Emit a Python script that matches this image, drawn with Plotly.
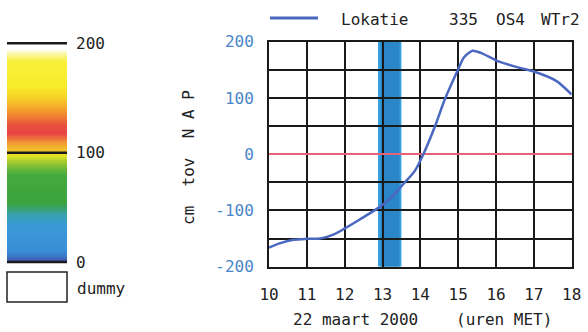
import plotly.graph_objects as go

# ---- data ----
hours = [10.0, 10.3, 10.65, 11.0, 11.35, 11.7, 12.0, 12.4, 12.9, 13.2, 13.55, 13.85,
         14.08, 14.39, 14.65, 15.0, 15.15, 15.38, 15.6, 16.1, 16.6, 17.0, 17.6, 18.0]
level = [-166, -158, -152, -150.5, -150, -143, -132, -116, -95, -79, -53, -30,
         0, 50, 98, 151, 172, 184, 180, 164, 154, 147, 130, 106]

band_outer = [12.88, 13.5]
band_inner = [12.95, 13.45]

x_ticks = [10, 11, 12, 13, 14, 15, 16, 17, 18]
y_ticks = [-200, -150, -100, -50, 0, 50, 100, 150, 200]
y_ticktext = ["-200", "", "-100", "", "0", "", "100", "", "200"]

scale_ticks = [0, 100, 200]
scale_levels = list(range(0, 201))
scale_colors = [
    [0.00, "#4a4aa8"], [0.025, "#3c74c4"], [0.05, "#3a8ed6"], [0.17, "#3a9ad8"],
    [0.22, "#38a0a8"], [0.27, "#3ca43c"], [0.40, "#44aa40"], [0.455, "#98c830"],
    [0.485, "#e6e424"], [0.51, "#f2c428"], [0.55, "#f09434"], [0.585, "#e84444"],
    [0.625, "#e8503c"], [0.68, "#f29030"], [0.74, "#f6c828"], [0.80, "#f8ec28"],
    [0.92, "#f8f03c"], [0.955, "#fbf8b8"], [0.975, "#ffffff"], [1.00, "#ffffff"],
]

FONT = "DejaVu Sans Mono"
CURVE = "#4a68c0"
YLAB = "#4a86c8"

fig = go.Figure()

# colour scale column (left)
fig.add_trace(go.Heatmap(
    z=[[v + 0.5] for v in scale_levels[:-1]],
    x=[0, 1], y=scale_levels,
    zmin=0, zmax=200, colorscale=scale_colors, showscale=False,
    xaxis="x2", yaxis="y2", hoverinfo="skip"))

# main curve
fig.add_trace(go.Scatter(
    x=hours, y=level, mode="lines",
    line=dict(color=CURVE, width=2.5, shape="spline", smoothing=0.7),
    showlegend=False, xaxis="x", yaxis="y"))

shapes = []
# blue band
shapes.append(dict(type="rect", xref="x", yref="y", x0=band_outer[0], x1=band_outer[1],
                   y0=-200, y1=200, fillcolor="#3aa2e0", line=dict(width=0), layer="below"))
shapes.append(dict(type="rect", xref="x", yref="y", x0=band_inner[0], x1=band_inner[1],
                   y0=-200, y1=200, fillcolor="#2a86c6", line=dict(width=0), layer="below"))
# scale lines
for t in scale_ticks:
    shapes.append(dict(type="line", xref="x2", yref="y2", x0=0, x1=1, y0=t, y1=t,
                       line=dict(color="#1a1a1a", width=2.5)))
# dummy box
shapes.append(dict(type="rect", xref="paper", yref="paper",
                   x0=7 / 588, x1=67 / 588, y0=1 - 302 / 332, y1=1 - 272 / 332,
                   line=dict(color="#222", width=1.5), fillcolor="white"))
# legend line
shapes.append(dict(type="line", xref="paper", yref="paper",
                   x0=270 / 588, x1=318 / 588, y0=1 - 18 / 332, y1=1 - 18 / 332,
                   line=dict(color=CURVE, width=3)))

ann = []
def A(text, x, y, anchor="left", angle=0, color="#222", size=16):
    ann.append(dict(text=text, xref="paper", yref="paper", x=x / 588, y=1 - y / 332,
                    xanchor=anchor, yanchor="middle", showarrow=False, textangle=angle,
                    font=dict(family=FONT, size=size, color=color)))

A("Lokatie", 339, 19)
A("335", 447, 19)
A("OS4", 494, 19)
A("WTr2", 539, 19)
A("22 maart 2000", 291, 319)
A("(uren MET)", 454, 319)
A("dummy", 75, 288)
ann.append(dict(text="cm&nbsp;&nbsp;tov&nbsp;&nbsp;N A P", xref="paper", yref="paper",
                x=189 / 588, y=1 - 158 / 332, xanchor="center", yanchor="middle",
                showarrow=False, textangle=-90,
                font=dict(family=FONT, size=16, color="#222")))

fig.update_layout(
    width=588, height=332, margin=dict(l=0, r=0, t=0, b=0, autoexpand=False),
    paper_bgcolor="white", plot_bgcolor="white",
    font=dict(family=FONT, size=16, color="#222"),
    shapes=shapes, annotations=ann, showlegend=False,
    xaxis=dict(domain=[269 / 588, 571.7 / 588], range=[10, 18], tickvals=x_ticks,
               showgrid=True, gridcolor="#1a1a1a", gridwidth=1.5, automargin=False,
               showline=True, linecolor="#1a1a1a", linewidth=2, mirror=True,
               ticks="outside", ticklen=0, ticklabelstandoff=12,
               tickfont=dict(family=FONT, size=16, color="#222"), zeroline=False),
    yaxis=dict(domain=[1 - 266.7 / 332, 1 - 41.7 / 332], range=[-200, 200],
               tickvals=y_ticks, ticktext=y_ticktext, automargin=False,
               showgrid=True, gridcolor="#1a1a1a", gridwidth=1.5,
               showline=True, linecolor="#1a1a1a", linewidth=2, mirror=True,
               ticks="outside", ticklen=0, ticklabelstandoff=10,
               zeroline=True, zerolinecolor="#e8607a", zerolinewidth=2,
               tickfont=dict(family=FONT, size=16, color=YLAB)),
    xaxis2=dict(domain=[7 / 588, 67 / 588], range=[0, 1], anchor="y2", automargin=False,
                showgrid=False, zeroline=False, showticklabels=False, showline=False),
    yaxis2=dict(domain=[1 - 264.2 / 332, 1 - 41.1 / 332], range=[-2, 202], anchor="x2",
                side="right", tickvals=scale_ticks, showgrid=False, zeroline=False,
                showline=False, ticks="", ticklabelstandoff=8, automargin=False,
                tickfont=dict(family=FONT, size=16, color="#222")),
)

fig.write_html("out.html", config={"displayModeBar": False},
               post_script="document.body.style.margin='0';document.body.style.overflow='hidden';")
